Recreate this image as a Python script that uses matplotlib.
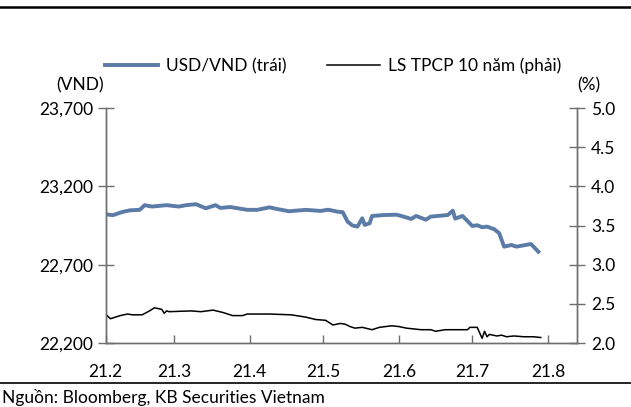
import matplotlib
matplotlib.use("Agg")
import matplotlib.pyplot as plt
import pandas as pd

plt.rcParams["font.family"] = ["Lato", "DejaVu Sans"]

# USD/VND exchange rate (left axis)
usd_dates = [
    "2021-02-01", "2021-02-04", "2021-02-08", "2021-02-11", "2021-02-15", "2021-02-17",
    "2021-02-20", "2021-02-26", "2021-03-03", "2021-03-06", "2021-03-10", "2021-03-14",
    "2021-03-18", "2021-03-20", "2021-03-24", "2021-03-31", "2021-04-04", "2021-04-09",
    "2021-04-12", "2021-04-17", "2021-04-24", "2021-04-30", "2021-05-03", "2021-05-07",
    "2021-05-09", "2021-05-11", "2021-05-13", "2021-05-15", "2021-05-17", "2021-05-18",
    "2021-05-20", "2021-05-21", "2021-05-26", "2021-05-31", "2021-06-02", "2021-06-06",
    "2021-06-08", "2021-06-12", "2021-06-14", "2021-06-21", "2021-06-23", "2021-06-24",
    "2021-06-27", "2021-07-01", "2021-07-03", "2021-07-05", "2021-07-07", "2021-07-10",
    "2021-07-12", "2021-07-14", "2021-07-17", "2021-07-19", "2021-07-25", "2021-07-27",
    "2021-07-28",
]
usd_vnd = [
    23022, 23016, 23037, 23047, 23050, 23080,
    23071, 23080, 23071, 23080, 23086, 23060,
    23080, 23062, 23068, 23050, 23050, 23066,
    23056, 23041, 23050, 23043, 23051, 23038,
    23035, 22975, 22950, 22943, 22996, 22954,
    22964, 23011, 23017, 23019, 23011, 22992,
    23011, 22987, 23007, 23017, 23045, 22994,
    23011, 22947, 22952, 22939, 22943, 22926,
    22901, 22815, 22826, 22815, 22832, 22799,
    22783,
]

# 10-year government bond yield (right axis)
bond_dates = [
    "2021-02-01", "2021-02-03", "2021-02-07", "2021-02-10", "2021-02-12", "2021-02-16",
    "2021-02-19", "2021-02-21", "2021-02-24", "2021-02-25", "2021-02-26", "2021-02-27",
    "2021-03-08", "2021-03-12", "2021-03-17", "2021-03-21", "2021-03-25", "2021-03-29",
    "2021-03-31", "2021-04-09", "2021-04-18", "2021-04-24", "2021-04-28", "2021-05-02",
    "2021-05-05", "2021-05-08", "2021-05-10", "2021-05-12", "2021-05-14", "2021-05-17",
    "2021-05-21", "2021-05-24", "2021-05-29", "2021-06-01", "2021-06-04", "2021-06-10",
    "2021-06-14", "2021-06-16", "2021-06-20", "2021-06-29", "2021-06-30", "2021-07-03",
    "2021-07-05", "2021-07-06", "2021-07-07", "2021-07-08", "2021-07-11", "2021-07-13",
    "2021-07-15", "2021-07-18", "2021-07-22", "2021-07-26", "2021-07-29",
]
bond_yield = [
    2.37, 2.31, 2.35, 2.37, 2.36, 2.36,
    2.41, 2.45, 2.43, 2.38, 2.41, 2.40,
    2.41, 2.40, 2.42, 2.39, 2.35, 2.35,
    2.37, 2.37, 2.36, 2.33, 2.30, 2.29,
    2.23, 2.25, 2.24, 2.21, 2.19, 2.20,
    2.17, 2.20, 2.22, 2.21, 2.19, 2.17,
    2.17, 2.15, 2.17, 2.17, 2.20, 2.20,
    2.06, 2.15, 2.08, 2.11, 2.09, 2.10,
    2.08, 2.09, 2.08, 2.08, 2.07,
]

tick_dates = ["2021-02-01", "2021-03-01", "2021-04-01", "2021-05-01",
              "2021-06-01", "2021-07-01", "2021-08-01"]
tick_labels = ["21.2", "21.3", "21.4", "21.5", "21.6", "21.7", "21.8"]

BLUE = "#5B7CA6"
AXIS = "#6e6e6e"
FS = 12.5

fig = plt.figure(figsize=(6.31, 4.07), dpi=100)
ax = fig.add_axes([0.1672, 0.1572, 0.9144 - 0.1672, 0.7346 - 0.1572])
ax2 = ax.twinx()

l1, = ax.plot(pd.to_datetime(usd_dates), usd_vnd, color=BLUE, lw=2.8,
              solid_joinstyle="round", label="USD/VND (trái)")
l2, = ax2.plot(pd.to_datetime(bond_dates), bond_yield, color="black", lw=1.1,
               label="LS TPCP 10 năm (phải)")

ax.set_ylim(22200, 23700)
ax.set_yticks([22200, 22700, 23200, 23700])
ax.set_yticklabels(["22,200", "22,700", "23,200", "23,700"])
ax2.set_ylim(2.0, 5.0)
ax2.set_yticks([2.0, 2.5, 3.0, 3.5, 4.0, 4.5, 5.0])
ax2.set_yticklabels(["2.0", "2.5", "3.0", "3.5", "4.0", "4.5", "5.0"])

ax.set_xlim(pd.Timestamp("2021-02-01"), pd.Timestamp("2021-02-01") + pd.Timedelta(days=192.8))
ax.set_xticks(pd.to_datetime(tick_dates))
ax.set_xticklabels(tick_labels)

for a in (ax, ax2):
    a.spines["top"].set_visible(False)
    for s in ("left", "right", "bottom"):
        a.spines[s].set_color(AXIS)
        a.spines[s].set_linewidth(1.0)
ax.tick_params(axis="y", direction="inout", length=12, width=1, color=AXIS,
               labelsize=FS, pad=3)
ax2.tick_params(axis="y", direction="inout", length=12, width=1, color=AXIS,
                labelsize=FS, pad=4)
ax.tick_params(axis="x", direction="in", length=6, width=1, color=AXIS,
               labelsize=FS, pad=15)

fig.text(80 / 631, 1 - 85 / 407, "(VND)", ha="center", va="center", fontsize=FS)
fig.text(589 / 631, 1 - 85 / 407, "(%)", ha="center", va="center", fontsize=FS)

fig.legend(handles=[l1, l2], loc="center", bbox_to_anchor=(333 / 631, 1 - 66 / 407),
           ncol=2, frameon=False, fontsize=FS, handlelength=3.1,
           columnspacing=2.3, handletextpad=0.45)

# header rule and footer rule with source note
fig.add_artist(plt.Line2D([0, 1], [1 - 7 / 407, 1 - 7 / 407], color="black", lw=1.8))
fig.add_artist(plt.Line2D([0, 1], [1 - 383 / 407, 1 - 383 / 407], color="black", lw=1.2))
fig.text(2 / 631, 1 - 397 / 407, "Nguồn: Bloomberg, KB Securities Vietnam",
         ha="left", va="center", fontsize=FS)

fig.savefig("out.png", dpi=100)
